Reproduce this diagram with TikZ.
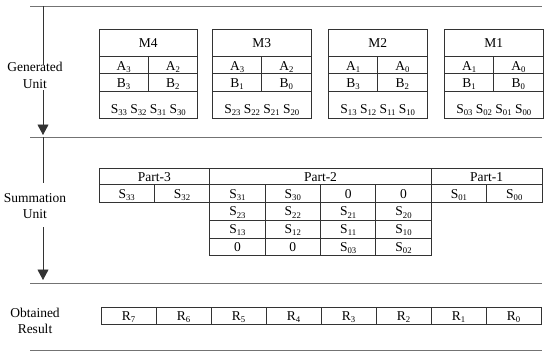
\documentclass[tikz,border=0pt]{standalone}
\usepackage{fontspec}
\setmainfont{Liberation Serif}
\usetikzlibrary{arrows.meta}
\newcommand\sbs[1]{\raisebox{-2.2pt}{\fontsize{8.7}{9}\selectfont#1}}
\tikzset{
  cell/.style={draw=black!80, line width=0.8pt, inner sep=0pt, outer sep=0pt,
    anchor=north west, text height=9.5pt, text depth=0pt},
  sepline/.style={draw=black!55, line width=0.8pt},
  conn/.style={draw=black!80, line width=0.8pt},
  arr/.style={conn, -{Triangle[width=11pt,length=10.5pt]}},
  lbl/.style={align=center, inner sep=0pt},
}
% #1 name, #2 x-left, #3 title, #4 A-left, #5 A-right, #6 B-left, #7 B-right, #8 S text
\newcommand\Mblock[8]{%
  \node[cell, minimum width=98.5pt, minimum height=27pt] (#1h) at (#2,29) {#3};
  \node[cell, minimum width=49.25pt, minimum height=17pt, text height=11.5pt] (#1al) at (#2,56) {#4};
  \node[cell, minimum width=49.25pt, minimum height=17pt, text height=11.5pt] (#1ar) at ({#2+49.25},56) {#5};
  \node[cell, minimum width=49.25pt, minimum height=18pt, text height=11.5pt] (#1bl) at (#2,73) {#6};
  \node[cell, minimum width=49.25pt, minimum height=18pt, text height=11.5pt] (#1br) at ({#2+49.25},73) {#7};
  \node[cell, minimum width=98.5pt, minimum height=27pt, text height=17.8pt] (#1s) at (#2,91) {#8};
}
\begin{document}
\begin{tikzpicture}[x=1pt, y=-1pt, font=\fontsize{13.5}{16.5}\selectfont]
\useasboundingbox (0,0) rectangle (550,357);

% separators
\draw[sepline] (30,6) -- (542,6);
\draw[sepline] (30,137) -- (542,137);
\draw[sepline] (30,283) -- (542,283);
\draw[sepline] (30,350) -- (542,350);

% side labels
\node[lbl] (gen) at (35,75.3) {Generated\\Unit};
\node[lbl] (sum) at (35,206.3) {Summation\\Unit};
\node[lbl] (obt) at (35,321) {Obtained\\Result};

% arrows
\coordinate (a1t) at (43,6);
\coordinate (a1e) at (43,65);
\coordinate (a1s) at (43,90);
\coordinate (a1p) at (43,135);
\coordinate (a2t) at (43,137);
\coordinate (a2e) at (43,183);
\coordinate (a2s) at (43,227);
\coordinate (a2p) at (43,280);
\draw[conn] (a1t) -- (a1e);
\draw[arr] (a1s) -- (a1p);
\draw[conn] (a2t) -- (a2e);
\draw[arr] (a2s) -- (a2p);

% generated unit blocks
\Mblock{m4}{99}{M4}{A\sbs{3}}{A\sbs{2}}{B\sbs{3}}{B\sbs{2}}{S\sbs{33} S\sbs{32} S\sbs{31} S\sbs{30}}
\Mblock{m3}{212.5}{M3}{A\sbs{3}}{A\sbs{2}}{B\sbs{1}}{B\sbs{0}}{S\sbs{23} S\sbs{22} S\sbs{21} S\sbs{20}}
\Mblock{m2}{328.5}{M2}{A\sbs{1}}{A\sbs{0}}{B\sbs{3}}{B\sbs{2}}{S\sbs{13} S\sbs{12} S\sbs{11} S\sbs{10}}
\Mblock{m1}{444.5}{M1}{A\sbs{1}}{A\sbs{0}}{B\sbs{1}}{B\sbs{0}}{S\sbs{03} S\sbs{02} S\sbs{01} S\sbs{00}}

% summation unit
\node[cell, minimum width=110.75pt, minimum height=16.5pt] (p3) at (99,168) {Part-3};
\node[cell, minimum width=221.5pt, minimum height=16.5pt] (p2) at (209.75,168) {Part-2};
\node[cell, minimum width=110.75pt, minimum height=16.5pt] (p1) at (431.25,168) {Part-1};
\foreach \t [count=\i from 0] in {S\sbs{33},S\sbs{32},S\sbs{31},S\sbs{30},0,0,S\sbs{01},S\sbs{00}}
  \node[cell, minimum width=55.375pt, minimum height=17.8pt] (ra\i) at ({99+55.375*\i},184.5) {\t};
\foreach \t [count=\i from 2] in {S\sbs{23},S\sbs{22},S\sbs{21},S\sbs{20}}
  \node[cell, minimum width=55.375pt, minimum height=17.8pt] (rb\i) at ({99+55.375*\i},202.3) {\t};
\foreach \t [count=\i from 2] in {S\sbs{13},S\sbs{12},S\sbs{11},S\sbs{10}}
  \node[cell, minimum width=55.375pt, minimum height=17.8pt] (rc\i) at ({99+55.375*\i},220.1) {\t};
\foreach \t [count=\i from 2] in {0,0,S\sbs{03},S\sbs{02}}
  \node[cell, minimum width=55.375pt, minimum height=17.8pt] (rd\i) at ({99+55.375*\i},237.9) {\t};

% obtained result
\foreach \t [count=\i from 0] in {7,6,5,4,3,2,1,0}
  \node[cell, minimum width=55pt, minimum height=17pt] (r\i) at ({101+55*\i},307) {R\sbs{\t}};
\end{tikzpicture}
\end{document}
